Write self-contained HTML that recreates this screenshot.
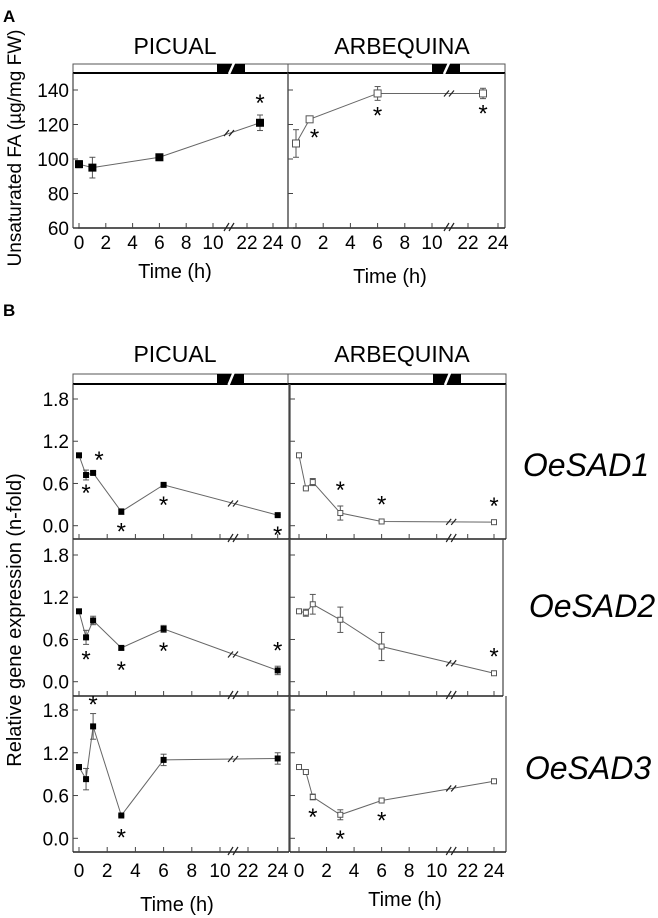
<!DOCTYPE html>
<html><head><meta charset="utf-8">
<style>
html,body{margin:0;padding:0;background:#fff;}
svg{display:block;font-family:"Liberation Sans",Arial,sans-serif;}
</style></head>
<body>
<svg id="fig" width="658" height="918" viewBox="0 0 658 918" xmlns="http://www.w3.org/2000/svg">
<text x="3" y="22" font-size="17" font-weight="bold">A</text>
<text x="3" y="316" font-size="17" font-weight="bold">B</text>
<text x="175" y="54" font-size="23" text-anchor="middle">PICUAL</text>
<text x="402" y="54" font-size="23" text-anchor="middle">ARBEQUINA</text>
<text x="175" y="362" font-size="23" text-anchor="middle">PICUAL</text>
<text x="402" y="362" font-size="23" text-anchor="middle">ARBEQUINA</text>
<text transform="translate(21,148) rotate(-90)" font-size="19" text-anchor="middle">Unsaturated FA (µg/mg FW)</text>
<text transform="translate(21,620) rotate(-90)" font-size="20" text-anchor="middle">Relative gene expression (n-fold)</text>
<text x="175" y="278" font-size="20" text-anchor="middle">Time (h)</text>
<text x="390" y="283" font-size="20" text-anchor="middle">Time (h)</text>
<text x="177" y="911" font-size="20" text-anchor="middle">Time (h)</text>
<text x="405" y="906" font-size="20" text-anchor="middle">Time (h)</text>
<text x="586" y="476" font-size="32" font-style="italic" text-anchor="middle">OeSAD1</text>
<text x="592" y="617" font-size="32" font-style="italic" text-anchor="middle">OeSAD2</text>
<text x="588" y="779" font-size="32" font-style="italic" text-anchor="middle">OeSAD3</text>
</svg>
<script>
const NS="http://www.w3.org/2000/svg";
const svg=document.getElementById('fig');
// ---- data ----
const timesA=[0,1,6,23];
const picualFA=[97,95,101,121];
const picualFAErr=[2,6,1.5,4.5];
const arbequinaFA=[109,123,138,138];
const arbequinaFAErr=[8,1,4,3];
const timesB=[0,0.5,1,3,6,24];
const picualSAD1=[1.0,0.72,0.75,0.2,0.58,0.15];
const picualSAD1Err=[0.01,0.07,0.02,0.04,0.01,0.01];
const picualSAD2=[1.0,0.63,0.87,0.48,0.75,0.16];
const picualSAD2Err=[0.01,0.1,0.06,0.03,0.05,0.06];
const picualSAD3=[1.0,0.83,1.57,0.32,1.1,1.12];
const picualSAD3Err=[0.01,0.15,0.18,0.01,0.08,0.08];
const arbSAD1=[1.0,0.53,0.62,0.18,0.06,0.05];
const arbSAD1Err=[0.01,0.01,0.05,0.1,0.01,0.01];
const arbSAD2=[1.0,0.98,1.1,0.88,0.5,0.12];
const arbSAD2Err=[0.01,0.05,0.14,0.18,0.2,0.03];
const arbSAD3=[1.0,0.93,0.58,0.33,0.53,0.8];
const arbSAD3Err=[0.01,0.01,0.04,0.07,0.01,0.03];
const ticksA=[60,80,100,120,140];
const ticksB=[0.0,0.6,1.2,1.8];
const tickLabelsB=["0.0","0.6","1.2","1.8"];
const xTickLabels=[0,2,4,6,8,10,22,24];
// ---- helpers ----
function el(tag,attrs,parent){const e=document.createElementNS(NS,tag);for(const k in attrs)e.setAttribute(k,attrs[k]);(parent||svg).appendChild(e);return e;}
function xmap(g){return t=>t<=10? g.x0+(g.x10-g.x0)*t/10 : g.x22+(g.x24-g.x22)*(t-22)/2;}
function ymap(g){return v=>g.yb+(g.yt-g.yb)*(v-g.vb)/(g.vt-g.vb);}
function lightBar(x1,x2,y1,y2,bx1,bx2,name){
  const g=el('g',{});
  
  
  el('rect',{x:x1,y:y1,width:x2-x1,height:y2-y1,fill:'#fff',stroke:'#555','stroke-width':1},g);
  el('line',{x1:x1,y1:y2,x2:x2,y2:y2,stroke:'#000','stroke-width':2},g);
  el('rect',{x:bx1,y:y1,width:bx2-bx1,height:y2-y1,fill:'#000'},g);
  const m=(bx1+bx2)/2;
  el('line',{x1:m-2,y1:y2+1,x2:m+3,y2:y1-1,stroke:'#fff','stroke-width':2.5},g);
}
function panel(g,times,vals,errs,filled,stars,name,ticks,tickLabels,showY,showX,msize){
  const grp=el('g',{});
  
  
  const X=xmap(g),Y=ymap(g);
  el('line',{x1:g.left,y1:g.top,x2:g.left,y2:g.bottom,stroke:'#444','stroke-width':1.2},grp);
  el('line',{x1:g.right,y1:g.top,x2:g.right,y2:g.bottom,stroke:'#444','stroke-width':1.2},grp);
  el('line',{x1:g.left,y1:g.bottom,x2:g.right,y2:g.bottom,stroke:'#222','stroke-width':1.5},grp);
  ticks.forEach((v,i)=>{
    const y=Y(v);
    el('line',{x1:g.left,y1:y,x2:g.left+5,y2:y,stroke:'#444'},grp);
    if(showY){
      const t=el('text',{x:g.left-4,y:y+7,'font-size':19,'text-anchor':'end'},grp);
      t.textContent=tickLabels?tickLabels[i]:v;
      
      
    }
  });
  xTickLabels.forEach(v=>{
    const x=X(v);
    el('line',{x1:x,y1:g.bottom,x2:x,y2:g.bottom-5,stroke:'#444'},grp);
    if(showX){
      const t=el('text',{x:x,y:g.bottom+g.labOff,'font-size':19,'text-anchor':'middle'},grp);
      t.textContent=v;
      
      
    }
  });
  const bx=(X(10)+X(22))/2;
  el('line',{x1:bx-6,y1:g.bottom+3,x2:bx-1,y2:g.bottom-5,stroke:'#222','stroke-width':1.2},grp);
  el('line',{x1:bx-1,y1:g.bottom+3,x2:bx+4,y2:g.bottom-5,stroke:'#222','stroke-width':1.2},grp);
  const pts=times.map((t,i)=>[X(t),Y(vals[i])]);
  el('polyline',{points:pts.map(p=>p.join(',')).join(' '),fill:'none',stroke:'#666','stroke-width':1},grp);
  const a=pts[pts.length-2],b=pts[pts.length-1];
  const f=(bx-a[0])/(b[0]-a[0]);const my=a[1]+(b[1]-a[1])*f;
  el('line',{x1:bx-6,y1:my+3,x2:bx-1,y2:my-3,stroke:'#222','stroke-width':1.2},grp);
  el('line',{x1:bx-1,y1:my+3,x2:bx+4,y2:my-3,stroke:'#222','stroke-width':1.2},grp);
  times.forEach((t,i)=>{
    const x=X(t),y=Y(vals[i]),yt=Y(vals[i]+errs[i]),yb=Y(vals[i]-errs[i]);
    el('line',{x1:x,y1:yt,x2:x,y2:yb,stroke:'#555'},grp);
    el('line',{x1:x-3,y1:yt,x2:x+3,y2:yt,stroke:'#555'},grp);
    el('line',{x1:x-3,y1:yb,x2:x+3,y2:yb,stroke:'#555'},grp);
    const m=el('rect',{x:x-msize/2,y:y-msize/2,width:msize,height:msize,fill:filled?'#000':'#fff',stroke:filled?'#000':'#555','stroke-width':1},grp);
    
    
  });
  stars.forEach(s=>{
    const i=s[0];
    const t=el('text',{x:X(times[i])+(s[2]||0),y:Y(vals[i])+s[1],'font-size':24,'text-anchor':'middle'},grp);
    t.textContent='*';
    
    
  });
}
// ---- Panel A ----
const gAL={left:73,right:288,top:73,bottom:228,x0:79,x10:213,x22:247,x24:273,yb:228,yt:90,vb:60,vt:140,labOff:21};
const gAR={left:288,right:505,top:73,bottom:228,x0:296,x10:432,x22:468,x24:498,yb:228,yt:90,vb:60,vt:140,labOff:21};
lightBar(73,288,64,73,217,245,'light-dark-bar-a-picual');
lightBar(288,505,64,73,432,460,'light-dark-bar-a-arbequina');
panel(gAL,timesA,picualFA,picualFAErr,true,[[3,-12]],'chart-a-picual',ticksA,null,true,true,7);
panel(gAR,timesA,arbequinaFA,arbequinaFAErr,false,[[1,26,5],[2,30],[3,28]],'chart-a-arbequina',ticksA,null,false,true,7);
// ---- Panel B ----
lightBar(73,288,374,384,217,244,'light-dark-bar-b-picual');
lightBar(288,506,374,384,433,461,'light-dark-bar-b-arbequina');
const rows=[
 {top:384,bottom:539,yt:399,yb:525.7,pl:picualSAD1,ple:picualSAD1Err,ar:arbSAD1,are:arbSAD1Err,
  ps:[[1,26],[2,-5,6],[3,28],[4,28],[5,28]],as:[[3,-15],[4,-9],[5,-8]],n:'oesad1',rightR:506},
 {top:539,bottom:696,yt:555,yb:681.7,pl:picualSAD2,ple:picualSAD2Err,ar:arbSAD2,are:arbSAD2Err,
  ps:[[1,30],[3,30],[4,30],[5,-12]],as:[[5,-9]],n:'oesad2',rightR:503},
 {top:696,bottom:852,yt:710,yb:838.3,pl:picualSAD3,ple:picualSAD3Err,ar:arbSAD3,are:arbSAD3Err,
  ps:[[2,-14],[3,30]],as:[[2,28],[3,32],[4,28]],n:'oesad3',rightR:506}
];
rows.forEach((r,k)=>{
  const last=k===2;
  const gL={left:73,right:289,top:r.top,bottom:r.bottom,x0:79,x10:220,x22:248,x24:277.7,yb:r.yb,yt:r.yt,vb:0,vt:1.8,labOff:last?25:0};
  const gR={left:290,right:r.rightR,top:r.top,bottom:r.bottom,x0:299,x10:436.7,x22:467.7,x24:494,yb:r.yb,yt:r.yt,vb:0,vt:1.8,labOff:last?25:0};
  panel(gL,timesB,r.pl,r.ple,true,r.ps,'chart-b-picual-'+r.n,ticksB,tickLabelsB,true,last,5);
  panel(gR,timesB,r.ar,r.are,false,r.as,'chart-b-arbequina-'+r.n,ticksB,tickLabelsB,false,last,5);
});
</script>
</body></html>
